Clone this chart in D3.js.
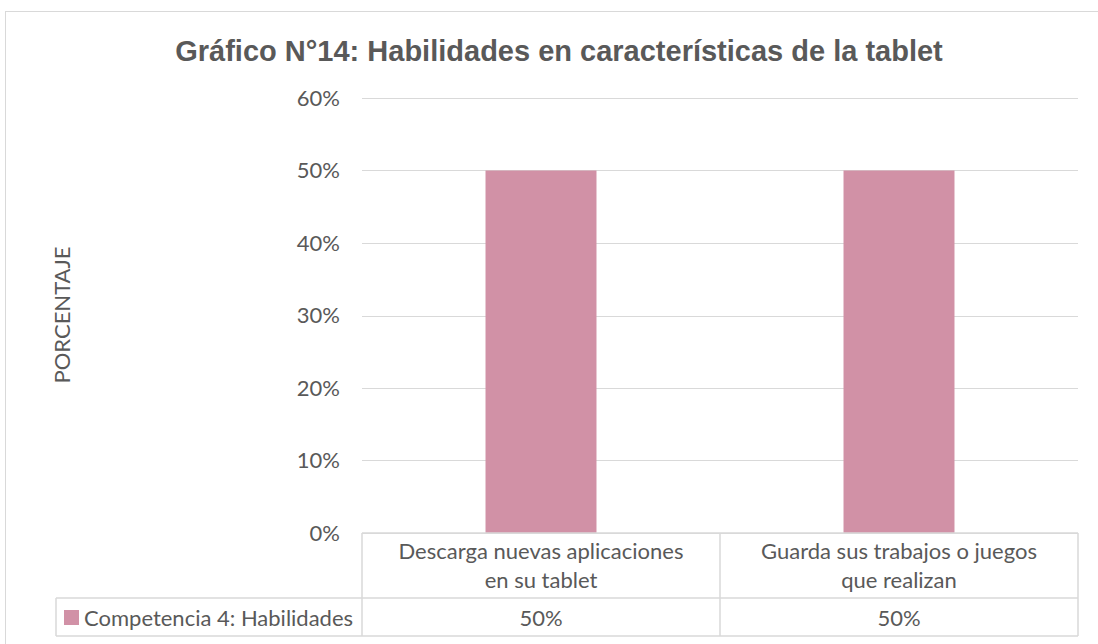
<!DOCTYPE html>
<html>
<head>
<meta charset="utf-8">
<script src="https://cdn.jsdelivr.net/npm/d3@7"></script>
<style>
  body { margin: 0; background: #fff; }
  text { font-family: Lato, "Open Sans", sans-serif; fill: #595959; }
</style>
</head>
<body>
<script>
const categories = [
  ["Descarga nuevas aplicaciones", "en su tablet"],
  ["Guarda sus trabajos o juegos", "que realizan"]
];
const seriesName = "Competencia 4: Habilidades";
const values = [0.5, 0.5];
const yTicks = [0, 0.1, 0.2, 0.3, 0.4, 0.5, 0.6];

const W = 1098, H = 644;
const margin = { top: 98, right: 20, bottom: 111, left: 362 },
      width = W - margin.left - margin.right,
      height = H - margin.top - margin.bottom;

const svg = d3.select("body").append("svg")
  .attr("width", W).attr("height", H);

// outer frame
svg.append("rect")
  .attr("x", 5.5).attr("y", 11.5)
  .attr("width", W + 10).attr("height", H)
  .attr("fill", "none").attr("stroke", "#d9d9d9");

svg.append("text")
  .attr("x", 559).attr("y", 61)
  .attr("text-anchor", "middle")
  .style("font-family", "'Liberation Sans', Arial, sans-serif")
  .style("font-weight", "bold")
  .style("font-size", "29px")
  .text("Gráfico N°14: Habilidades en características de la tablet");

const g = svg.append("g")
  .attr("transform", `translate(${margin.left},${margin.top})`);

const x = d3.scaleBand()
  .domain(d3.range(categories.length))
  .range([0, width])
  .paddingInner(0.69).paddingOuter(0.345);

const band = d3.scaleBand()
  .domain(d3.range(categories.length))
  .range([0, width]);

const y = d3.scaleLinear()
  .domain([0, 0.6])
  .range([height, 0]);

// grid
g.selectAll(".grid")
  .data(yTicks)
  .enter().append("line")
  .attr("x1", 0).attr("x2", width)
  .attr("y1", d => Math.round(y(d)) + 0.5)
  .attr("y2", d => Math.round(y(d)) + 0.5)
  .attr("stroke", "#d9d9d9");

// y axis labels
const yAxis = g.append("g")
  .call(d3.axisLeft(y).tickValues(yTicks).tickFormat(d3.format(".0%")).tickSize(0).tickPadding(22));
yAxis.select(".domain").remove();
yAxis.selectAll("text")
  .style("font-size", "22px")
  .attr("fill", "#595959")
  .style("font-family", "Lato, 'Open Sans', sans-serif");

g.selectAll(".bar")
  .data(values)
  .enter().append("rect")
  .attr("x", (d, i) => x(i))
  .attr("y", d => y(d))
  .attr("width", x.bandwidth())
  .attr("height", d => y(0) - y(d))
  .attr("fill", "#d191a6");

// y axis title
svg.append("text")
  .attr("transform", "translate(70,315) rotate(-90)")
  .attr("text-anchor", "middle")
  .style("font-size", "22px")
  .text("PORCENTAJE");

// data table
const rowSep = 65, tableBottom = 103;
const t = g.append("g").attr("transform", `translate(0,${height})`);
const line = (x1, y1, x2, y2) => t.append("line")
  .attr("x1", x1).attr("y1", y1).attr("x2", x2).attr("y2", y2)
  .attr("stroke", "#d9d9d9").attr("stroke-width", 1.5);

line(0, 0, width, 0);
line(-306, rowSep, width, rowSep);
line(-306, tableBottom, width, tableBottom);
line(-306, rowSep, -306, tableBottom);
d3.range(categories.length + 1).forEach(i => line(i * band.step(), 0, i * band.step(), tableBottom));

categories.forEach((lines, i) => {
  lines.forEach((s, j) => {
    t.append("text")
      .attr("x", band(i) + band.bandwidth() / 2)
      .attr("y", 26 + j * 29)
      .attr("text-anchor", "middle")
      .style("font-size", "22px")
      .text(s);
  });
  t.append("text")
    .attr("x", band(i) + band.bandwidth() / 2)
    .attr("y", rowSep + 28)
    .attr("text-anchor", "middle")
    .style("font-size", "22px")
    .text(d3.format(".0%")(values[i]));
});

t.append("rect")
  .attr("x", -298).attr("y", rowSep + 12)
  .attr("width", 15).attr("height", 15)
  .attr("fill", "#d191a6");
t.append("text")
  .attr("x", -278).attr("y", rowSep + 28)
  .style("font-size", "22px")
  .text(seriesName);
</script>
</body>
</html>
